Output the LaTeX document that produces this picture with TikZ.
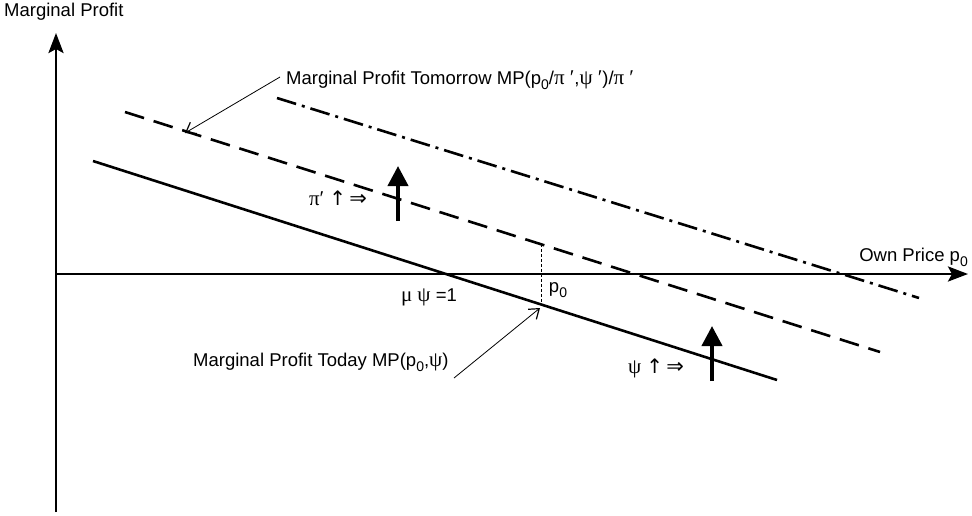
\documentclass[tikz,border=0pt]{standalone}
\usepackage{fontspec}
\setmainfont{Liberation Sans}
\newfontfamily\grk{Liberation Serif}
\newfontfamily\symf{DejaVu Sans}
\usetikzlibrary{arrows.meta}
\newcommand\lowsub[1]{\raisebox{-0.5ex}{\fontsize{14}{14}\selectfont #1}}
\newcommand\gpi{{\grk\fontsize{21}{21}\selectfont π}}
\newcommand\gpsi{{\grk\fontsize{21}{21}\selectfont ψ}}
\newcommand\gmu{{\grk\fontsize{21}{21}\selectfont μ}}
\newcommand\gpr{{\grk\fontsize{21}{21}\selectfont ′}}
\newcommand\uparr{{\symf\fontsize{20}{20}\selectfont ↑}}
\newcommand\implarr{{\symf\fontsize{21}{21}\selectfont ⇒}}
\tikzset{
  axis/.style={line width=2.8pt,-{Stealth[length=20pt,width=15pt,inset=4pt]}},
  today/.style={line width=2.6pt},
  tomorrowline/.style={line width=2.6pt,dash pattern=on 20pt off 10pt},
  dashdotline/.style={line width=2.6pt,dash pattern=on 20pt off 6pt on 3pt off 6pt},
  guide/.style={line width=0.7pt,dash pattern=on 3pt off 2pt},
  leader/.style={line width=0.8pt,-{Straight Barb[length=9pt,width=13pt,line width=1.2pt]}},
  shiftarrow/.style={line width=4pt,-{Triangle[length=20pt,width=20pt]}},
  lbl/.style={inner sep=0pt,font=\fontsize{18.5}{20}\selectfont}
}
\begin{document}
\begin{tikzpicture}[x=1pt,y=-1pt]
\useasboundingbox (0,0) rectangle (972,515);
% axes
\coordinate (O) at (56,274);
\coordinate (ybot) at (56,512);
\coordinate (ytop) at (56,33);
\coordinate (xend) at (968,274);
\draw[axis] (ybot) -- (ytop);
\draw[axis] (O) -- (xend);
\node[lbl,anchor=west] (ylab) at (4,12) {Marginal Profit};
\node[lbl,anchor=east] (xlab) at (968,257) {Own Price p\lowsub{0}};
% lines
\coordinate (s1) at (93,161);
\coordinate (s2) at (777,380);
\draw[today] (s1) -- (s2);
\coordinate (d1) at (125,112);
\coordinate (d2) at (880,352);
\draw[tomorrowline] (d1) -- (d2);
\coordinate (c1) at (277,98);
\coordinate (c2) at (919,298);
\draw[dashdotline] (c1) -- (c2);
% p0 guide
\coordinate (g1) at (541,244);
\coordinate (g2) at (541,306);
\draw[guide] (g1) -- (g2);
\node[lbl] (p0) at (558,290) {p\lowsub{0}};
\node[lbl] (mu) at (429,297) {\gmu\ \gpsi\ =1};
% labels with leaders
\node[lbl,anchor=west] (tom) at (286,80) {Marginal Profit Tomorrow MP(p\lowsub{0}/\gpi\ \gpr,\gpsi\ \gpr)/\gpi\ \gpr};
\coordinate (tomtip) at (185,133);
\coordinate (tomstart) at (280,77);
\draw[leader] (tomstart) -- (tomtip);
\node[lbl,anchor=west] (tod) at (193,362) {Marginal Profit Today MP(p\lowsub{0},\gpsi)};
\coordinate (todstart) at (454,378);
\coordinate (todtip) at (540,308);
\draw[leader] (todstart) -- (todtip);
% shift arrows
\node[lbl] (pishift) at (338,198) {\gpi\gpr\ \uparr\,\implarr};
\coordinate (a1b) at (398,221);
\coordinate (a1t) at (398,166);
\draw[shiftarrow] (a1b) -- (a1t);
\node[lbl] (psishift) at (656,368) {\gpsi\ \uparr\,\implarr};
\coordinate (a2b) at (712,381);
\coordinate (a2t) at (712,326);
\draw[shiftarrow] (a2b) -- (a2t);
\end{tikzpicture}
\end{document}
